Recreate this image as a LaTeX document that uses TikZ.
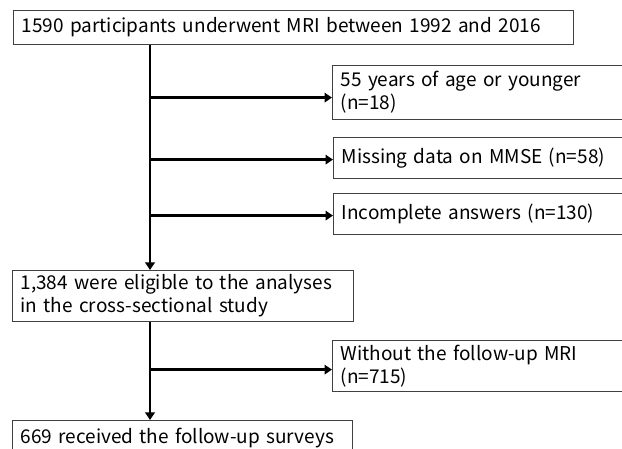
\documentclass[tikz,border=0pt]{standalone}
\usepackage{fontspec}
\setmainfont{Noto Sans CJK JP}
\usetikzlibrary{arrows.meta}
\usetikzlibrary{calc}
\tikzset{
  every node/.style = {font = \fontsize{19}{23}\selectfont}
}
\tikzset{
  flowbox/.style = {draw=black!75, line width=1.2pt, anchor=north west,
    align=left, inner xsep=8pt, inner ysep=0pt}
}
\tikzset{
  flowline/.style = {line width=2.4pt}
}
\tikzset{
    >={Triangle[length=7.5pt,width=9.5pt]}
}

\begin{document}
\begin{tikzpicture}[x=1pt, y=-1pt]
  \useasboundingbox (0,0) rectangle (622,449);
  \clip (0,0) rectangle (622,449);

  % Main path
  \node[flowbox, text width=544pt, minimum height=34pt] (all) at (13,10)
    {1590 participants underwent MRI between 1992 and 2016};
  \node[flowbox, text width=325pt, minimum height=51pt] (elig) at (12,270)
    {1,384 were eligible to the analyses\\in the cross-sectional study};
  \node[flowbox, text width=324pt, minimum height=34pt] (follow) at (12,420)
    {669 received the follow-up surveys};

  % Exclusions
  \node[flowbox, text width=300pt, minimum height=54pt] (age) at (332,65)
    {55 years of age or younger\\(n=18)};
  \node[flowbox, text width=300pt, minimum height=41pt] (mmse) at (333,137)
    {Missing data on MMSE (n=58)};
  \node[flowbox, text width=300pt, minimum height=41pt] (answers) at (333,193)
    {Incomplete answers (n=130)};
  \node[flowbox, text width=300pt, minimum height=51pt] (mri) at (332,340)
    {Without the follow-up MRI\\(n=715)};

  % Connectors
  \coordinate (spine) at (150,0);
  \draw[flowline,line width=2.8pt,->] (all.south -| spine) -- (elig.north -| spine);
  \draw[flowline,line width=2.8pt,->] (elig.south -| spine) -- (follow.north -| spine);

  \coordinate (b1) at ($(age.west)+(0,5)$);
  \coordinate (b2) at ($(mmse.west)+(0,1.5)$);
  \coordinate (b3) at ($(answers.west)+(0,1.5)$);
  \coordinate (b4) at ($(mri.west)+(0,3.5)$);
  \foreach \b in {b1,b2,b3,b4}
    \draw[flowline,->] (\b -| spine) -- (\b);
\end{tikzpicture}
\end{document}
